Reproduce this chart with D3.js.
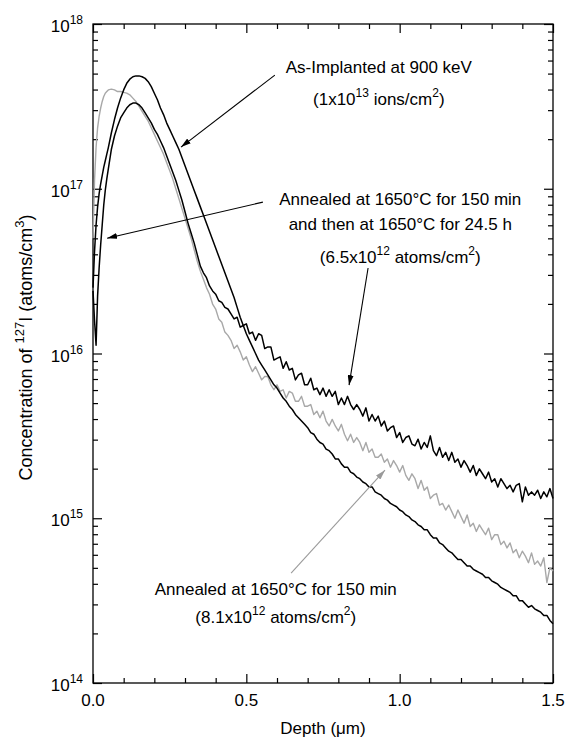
<!DOCTYPE html>
<html>
<head>
<meta charset="utf-8">
<script src="https://cdn.jsdelivr.net/npm/d3@7"></script>
<style>
body { margin: 0; background: #fff; }
text { font-family: "Liberation Sans", Arial, Helvetica, sans-serif; fill: #000; }
</style>
</head>
<body>
<script>
// depth in micrometres
var depth = [
  0, 0.005, 0.01, 0.015, 0.02, 0.025, 0.03, 0.035, 0.04, 0.045,
  0.05, 0.06, 0.07, 0.08, 0.09, 0.10, 0.11, 0.12, 0.13, 0.14,
  0.15, 0.16, 0.17, 0.18, 0.19, 0.20, 0.21, 0.22, 0.23, 0.24,
  0.25, 0.26, 0.27, 0.28, 0.29, 0.30, 0.31, 0.32, 0.33, 0.34,
  0.35, 0.36, 0.37, 0.38, 0.39, 0.40, 0.41, 0.42, 0.43, 0.44,
  0.45, 0.46, 0.47, 0.48, 0.49, 0.50, 0.51, 0.52, 0.53, 0.54,
  0.55, 0.56, 0.57, 0.58, 0.59, 0.60, 0.61, 0.62, 0.63, 0.64,
  0.65, 0.66, 0.67, 0.68, 0.69, 0.70, 0.71, 0.72, 0.73, 0.74,
  0.75, 0.76, 0.77, 0.78, 0.79, 0.80, 0.81, 0.82, 0.83, 0.84,
  0.85, 0.86, 0.87, 0.88, 0.89, 0.90, 0.91, 0.92, 0.93, 0.94,
  0.95, 0.96, 0.97, 0.98, 0.99, 1.00, 1.01, 1.02, 1.03, 1.04,
  1.05, 1.06, 1.07, 1.08, 1.09, 1.10, 1.11, 1.12, 1.13, 1.14,
  1.15, 1.16, 1.17, 1.18, 1.19, 1.20, 1.21, 1.22, 1.23, 1.24,
  1.25, 1.26, 1.27, 1.28, 1.29, 1.30, 1.31, 1.32, 1.33, 1.34,
  1.35, 1.36, 1.37, 1.38, 1.39, 1.40, 1.41, 1.42, 1.43, 1.44,
  1.45, 1.46, 1.47, 1.48, 1.49, 1.50
];

// log10 of concentration (atoms/cm3)
var asImplanted = [
  16.40, 16.62, 16.78, 16.89, 16.97, 17.03, 17.08, 17.13, 17.17, 17.21,
  17.25, 17.34, 17.42, 17.49, 17.55, 17.60, 17.64, 17.665, 17.68, 17.685,
  17.685, 17.68, 17.67, 17.65, 17.62, 17.58, 17.54, 17.49, 17.45, 17.40,
  17.36, 17.32, 17.28, 17.24, 17.19, 17.14, 17.09, 17.04, 16.99, 16.94,
  16.89, 16.84, 16.79, 16.74, 16.69, 16.64, 16.59, 16.54, 16.49, 16.44,
  16.39, 16.34, 16.28, 16.22, 16.17, 16.12, 16.08, 16.04, 16.00, 15.96,
  15.93, 15.90, 15.87, 15.84, 15.81, 15.79, 15.76, 15.73, 15.71, 15.68,
  15.66, 15.63, 15.61, 15.59, 15.57, 15.55, 15.52, 15.51, 15.48, 15.46,
  15.45, 15.42, 15.41, 15.39, 15.36, 15.36, 15.33, 15.31, 15.31, 15.28,
  15.27, 15.25, 15.24, 15.22, 15.21, 15.19, 15.19, 15.16, 15.15, 15.14,
  15.12, 15.11, 15.09, 15.08, 15.07, 15.05, 15.04, 15.02, 15.01, 14.99,
  14.98, 14.96, 14.95, 14.93, 14.93, 14.90, 14.88, 14.88, 14.85, 14.84,
  14.82, 14.80, 14.79, 14.77, 14.75, 14.75, 14.73, 14.71, 14.71, 14.69,
  14.68, 14.67, 14.66, 14.64, 14.64, 14.62, 14.61, 14.60, 14.58, 14.57,
  14.56, 14.55, 14.53, 14.53, 14.50, 14.50, 14.48, 14.46, 14.47, 14.45,
  14.44, 14.43, 14.41, 14.41, 14.38, 14.36
];

var anneal150 = [
  16.70, 17.05, 17.25, 17.37, 17.44, 17.49, 17.53, 17.56, 17.58, 17.59,
  17.60, 17.605, 17.60, 17.59, 17.59, 17.585, 17.58, 17.57, 17.55, 17.53,
  17.50, 17.47, 17.44, 17.41, 17.37, 17.33, 17.29, 17.25, 17.21, 17.16,
  17.11, 17.06, 17.00, 16.94, 16.88, 16.82, 16.76, 16.70, 16.63, 16.56,
  16.50, 16.45, 16.40, 16.36, 16.30, 16.27, 16.21, 16.19, 16.13, 16.11,
  16.08, 16.03, 16.05, 16.01, 15.96, 15.98, 15.93, 15.89, 15.92, 15.88,
  15.84, 15.86, 15.86, 15.81, 15.78, 15.81, 15.77, 15.78, 15.73, 15.77,
  15.76, 15.71, 15.71, 15.74, 15.68, 15.68, 15.69, 15.63, 15.65, 15.61,
  15.65, 15.59, 15.56, 15.60, 15.56, 15.53, 15.57, 15.51, 15.47, 15.51,
  15.46, 15.49, 15.46, 15.41, 15.46, 15.40, 15.42, 15.37, 15.37, 15.39,
  15.34, 15.36, 15.31, 15.35, 15.32, 15.28, 15.32, 15.26, 15.23, 15.27,
  15.24, 15.18, 15.23, 15.17, 15.19, 15.12, 15.14, 15.15, 15.08, 15.09,
  15.05, 15.08, 15.04, 15.00, 15.05, 15.01, 14.97, 15.02, 14.95, 14.97,
  14.92, 14.96, 14.93, 14.90, 14.94, 14.87, 14.90, 14.90, 14.84, 14.86,
  14.82, 14.85, 14.79, 14.81, 14.76, 14.80, 14.77, 14.73, 14.79, 14.72,
  14.74, 14.71, 14.76, 14.61, 14.70, 14.68
];

var anneal245h = [
  16.38, 16.20, 16.05, 16.35, 16.52, 16.66, 16.78, 16.90, 16.99, 17.06,
  17.12, 17.24, 17.32, 17.38, 17.43, 17.46, 17.49, 17.51, 17.52, 17.52,
  17.51, 17.49, 17.46, 17.43, 17.40, 17.36, 17.33, 17.29, 17.25, 17.20,
  17.15, 17.10, 17.05, 16.99, 16.93, 16.86, 16.79, 16.73, 16.67, 16.60,
  16.53, 16.49, 16.46, 16.41, 16.38, 16.36, 16.32, 16.31, 16.28, 16.27,
  16.24, 16.21, 16.22, 16.16, 16.17, 16.18, 16.12, 16.13, 16.08, 16.12,
  16.11, 16.03, 16.04, 16.04, 15.96, 15.97, 15.98, 15.91, 15.95, 15.90,
  15.91, 15.84, 15.87, 15.88, 15.81, 15.81, 15.85, 15.78, 15.79, 15.75,
  15.79, 15.74, 15.78, 15.74, 15.77, 15.69, 15.73, 15.69, 15.74, 15.69,
  15.66, 15.69, 15.66, 15.62, 15.67, 15.59, 15.63, 15.59, 15.62, 15.56,
  15.59, 15.53, 15.55, 15.56, 15.49, 15.52, 15.46, 15.49, 15.50, 15.45,
  15.44, 15.48, 15.42, 15.46, 15.43, 15.50, 15.41, 15.38, 15.43, 15.37,
  15.40, 15.35, 15.40, 15.34, 15.36, 15.31, 15.35, 15.32, 15.28, 15.32,
  15.26, 15.30, 15.27, 15.24, 15.28, 15.22, 15.24, 15.19, 15.24, 15.21,
  15.18, 15.20, 15.16, 15.20, 15.21, 15.10, 15.19, 15.14, 15.16, 15.14,
  15.17, 15.12, 15.16, 15.13, 15.18, 15.12
];

var xTicksMajor = [0, 0.5, 1.0, 1.5];
var xTickLabels = ["0.0", "0.5", "1.0", "1.5"];
var yDecades = [14, 15, 16, 17, 18];

// annotations, placed in data units (depth, log10 conc.)
var notes = [
  {x: 0.932, c: 17.70, gaps: [0, 32],
   lines: [["As-Implanted at 900 keV"], ["(1x10", "13", " ions/cm", "2", ")"]]},
  {x: 1.002, c: 16.90, gaps: [0, 25, 58],
   lines: [["Annealed at 1650\u00b0C for 150 min"], ["and then at 1650\u00b0C for 24.5 h"], ["(6.5x10", "12", " atoms/cm", "2", ")"]]},
  {x: 0.596, c: 14.533, gaps: [0, 28],
   lines: [["Annealed at 1650\u00b0C for 150 min"], ["(8.1x10", "12", " atoms/cm", "2", ")"]]}
];

var arrows = [
  {from: [0.593, 17.69], to: [0.287, 17.253], color: "#000"},
  {from: [0.554, 16.919], to: [0.046, 16.70], color: "#000"},
  {from: [0.897, 16.519], to: [0.835, 15.808], color: "#000"},
  {from: [0.646, 14.667], to: [0.952, 15.292], color: "#9a9a9a"}
];

var W = 568, H = 739;
var margin = {top: 24, right: 15, bottom: 56, left: 93},
    width = W - margin.left - margin.right,
    height = H - margin.top - margin.bottom;

var svg = d3.select("body").append("svg")
    .attr("width", W)
    .attr("height", H);

var g = svg.append("g")
    .attr("transform", "translate(" + margin.left + "," + margin.top + ")");

var x = d3.scaleLinear().domain([0, 1.5]).range([0, width]);
var y = d3.scaleLog().domain([1e14, 1e18]).range([height, 0]);

// tick positions
var xMinor = d3.range(1, 15).map(function(i) { return i / 10; }).filter(function(v) { return v !== 0.5 && v !== 1.0; });
var yMajor = yDecades.map(function(e) { return Math.pow(10, e); });
var yMinor = [];
yDecades.slice(0, -1).forEach(function(e) {
    for (var m = 2; m <= 9; m++) yMinor.push(m * Math.pow(10, e));
});

function axis(a, vals, size, tr) {
    var ax = g.append("g")
        .attr("transform", tr || null)
        .call(a.tickValues(vals).tickSize(-size).tickFormat(""));
    ax.select(".domain").remove();
    ax.selectAll("line").attr("stroke", "#000").attr("stroke-width", 1.2);
    return ax;
}

axis(d3.axisBottom(x), xTicksMajor, 9, "translate(0," + height + ")");
axis(d3.axisBottom(x), xMinor, 5, "translate(0," + height + ")");
axis(d3.axisTop(x), xTicksMajor, 9);
axis(d3.axisTop(x), xMinor, 5);
axis(d3.axisLeft(y), yMajor, 9);
axis(d3.axisLeft(y), yMinor, 5);
axis(d3.axisRight(y), yMajor, 9, "translate(" + width + ",0)");
axis(d3.axisRight(y), yMinor, 5, "translate(" + width + ",0)");

// frame
g.append("rect")
    .attr("width", width)
    .attr("height", height)
    .attr("fill", "none")
    .attr("stroke", "#000")
    .attr("stroke-width", 1.3);

// x tick labels
g.selectAll(".xlab")
    .data(xTicksMajor)
    .enter()
    .append("text")
    .attr("x", function(d) { return x(d); })
    .attr("y", height + 23)
    .attr("text-anchor", "middle")
    .style("font-size", "17px")
    .text(function(d, i) { return xTickLabels[i]; });

// y tick labels 10^n
var ylab = g.selectAll(".ylab")
    .data(yDecades)
    .enter()
    .append("text")
    .attr("x", -10)
    .attr("y", function(d) { return y(Math.pow(10, d)) + 8; })
    .attr("text-anchor", "end")
    .style("font-size", "17px");
ylab.append("tspan").text("10");
ylab.append("tspan").attr("dy", -8).style("font-size", "12px").text(function(d) { return d; });

// axis titles
g.append("text")
    .attr("x", width / 2)
    .attr("y", height + 51)
    .attr("text-anchor", "middle")
    .style("font-size", "17px")
    .text("Depth (\u03bcm)");

var yt = g.append("text")
    .attr("transform", "translate(" + (-61) + "," + (height / 2 - 6) + ") rotate(-90)")
    .attr("text-anchor", "middle")
    .style("font-size", "18px");
yt.append("tspan").text("Concentration of ");
yt.append("tspan").attr("dy", -8).style("font-size", "13px").text("127");
yt.append("tspan").attr("dy", 8).text("I (atoms/cm");
yt.append("tspan").attr("dy", -8).style("font-size", "13px").text("3");
yt.append("tspan").attr("dy", 8).text(")");

// curves
var line = d3.line()
    .x(function(d, i) { return x(depth[i]); })
    .y(function(d) { return y(Math.pow(10, d)); });

var plot = g.append("g");
plot.append("path").datum(anneal150)
    .attr("d", line).attr("fill", "none")
    .attr("stroke", "#a8a8a8").attr("stroke-width", 1.4).attr("stroke-linejoin", "round");
plot.append("path").datum(anneal245h)
    .attr("d", line).attr("fill", "none")
    .attr("stroke", "#000").attr("stroke-width", 1.5).attr("stroke-linejoin", "round");
plot.append("path").datum(asImplanted)
    .attr("d", line).attr("fill", "none")
    .attr("stroke", "#000").attr("stroke-width", 1.5).attr("stroke-linejoin", "round");

// arrow heads
var defs = svg.append("defs");
["#000", "#9a9a9a"].forEach(function(c, i) {
    defs.append("marker")
        .attr("id", "head" + i)
        .attr("viewBox", "0 0 10 6")
        .attr("refX", 10).attr("refY", 3)
        .attr("markerWidth", 10).attr("markerHeight", 6)
        .attr("markerUnits", "userSpaceOnUse")
        .attr("orient", "auto")
        .append("path")
        .attr("d", "M0,0L10,3L0,6Z")
        .attr("fill", c);
});

g.selectAll(".arrow")
    .data(arrows)
    .enter()
    .append("line")
    .attr("x1", function(d) { return x(d.from[0]); })
    .attr("y1", function(d) { return y(Math.pow(10, d.from[1])); })
    .attr("x2", function(d) { return x(d.to[0]); })
    .attr("y2", function(d) { return y(Math.pow(10, d.to[1])); })
    .attr("stroke", function(d) { return d.color; })
    .attr("stroke-width", 1.1)
    .attr("marker-end", function(d) { return d.color === "#000" ? "url(#head0)" : "url(#head1)"; });

// annotation text
notes.forEach(function(n) {
    var x0 = x(n.x), y0 = y(Math.pow(10, n.c));
    n.lines.forEach(function(parts, k) {
        var t = g.append("text")
            .attr("x", x0)
            .attr("y", y0 + n.gaps[k])
            .attr("text-anchor", "middle")
            .style("font-size", "17px");
        parts.forEach(function(p, j) {
            var sp = t.append("tspan").text(p);
            if (j % 2 === 1) sp.attr("dy", -8).style("font-size", "12px");
            else if (j > 0) sp.attr("dy", 8);
        });
    });
});
</script>
</body>
</html>
